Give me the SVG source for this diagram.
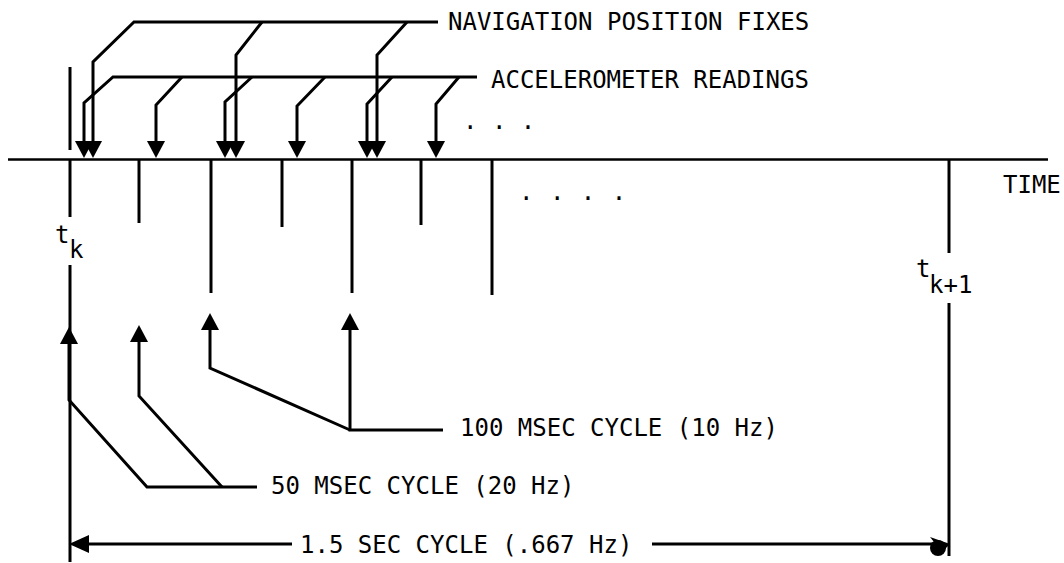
<svg xmlns="http://www.w3.org/2000/svg" width="1064" height="563" viewBox="0 0 1064 563">
<style>
.ln{stroke:#000;stroke-width:3;fill:none;stroke-linejoin:miter;stroke-linecap:butt}
.ax{stroke:#000;stroke-width:2.5;fill:none}
.tx{font-family:"DejaVu Sans Mono","Liberation Mono",monospace;font-size:24px;fill:#000}
.dn{marker-end:url(#ah)}
.dim{marker-end:url(#ahL)}
</style>
<defs>
<marker id="ah" viewBox="0 0 17 18" refX="5" refY="9" markerWidth="17" markerHeight="18" markerUnits="userSpaceOnUse" orient="auto">
<path d="M0,0 L17,9 L0,18 z" fill="#000"/>
</marker>
<marker id="ahL" viewBox="0 0 20 18" refX="4" refY="9" markerWidth="20" markerHeight="18" markerUnits="userSpaceOnUse" orient="auto">
<path d="M0,0 L20,9 L0,18 z" fill="#000"/>
</marker>
<marker id="blob" viewBox="0 0 20 22" refX="4" refY="8" markerWidth="20" markerHeight="22" markerUnits="userSpaceOnUse" orient="auto">
<path d="M0,1 L20,8 L12,16 z" fill="#000"/>
<circle cx="8" cy="12" r="8" fill="#000"/>
</marker>
</defs>

<g id="time-axis">
<line class="ax" x1="8" y1="159.5" x2="1048" y2="159.5"/>
<text class="tx" x="1003" y="193">TIME</text>
</g>

<g id="tk">
<line class="ln" x1="70" y1="67" x2="70" y2="150"/>
<line class="ln" x1="70" y1="160" x2="70" y2="217"/>
<line class="ln" x1="70" y1="265" x2="70" y2="562"/>
<text class="tx" x="55" y="243">t</text>
<text class="tx" x="69" y="258">k</text>
</g>

<g id="tk1">
<line class="ln" x1="949" y1="160" x2="949" y2="253"/>
<line class="ln" x1="949" y1="303" x2="949" y2="556"/>
<text class="tx" x="916" y="277">t</text>
<text class="tx" x="929" y="293">k+1</text>
</g>

<g id="ticks">
<line class="ln" x1="139" y1="160" x2="139" y2="223"/>
<line class="ln" x1="211" y1="160" x2="211" y2="293"/>
<line class="ln" x1="282" y1="160" x2="282" y2="227"/>
<line class="ln" x1="352" y1="160" x2="352" y2="293"/>
<line class="ln" x1="421" y1="160" x2="421" y2="225"/>
<line class="ln" x1="492" y1="160" x2="492" y2="295"/>
<text class="tx" x="519" y="200" letter-spacing="1">. . . .</text>
</g>

<g id="nav-label">
<text class="tx" x="448" y="30">NAVIGATION POSITION FIXES</text>
</g>
<g id="acc-label">
<text class="tx" x="491" y="88">ACCELEROMETER READINGS</text>
<text class="tx" x="463" y="129">. . .</text>
</g>
<g id="cycle-100">
<text class="tx" x="460" y="436">100 MSEC CYCLE (10 Hz)</text>
</g>
<g id="cycle-50">
<text class="tx" x="271" y="494">50 MSEC CYCLE (20 Hz)</text>
</g>
<g id="cycle-1-5">
<text class="tx" x="300" y="553">1.5 SEC CYCLE (.667 Hz)</text>
</g>

<g id="connectors">
<path class="ln dn" d="M438,22 L134,22 L93,62 L93,146"/>
<path class="ln dn" d="M262,22 L236,55 L236,146"/>
<path class="ln dn" d="M407,22 L377,55 L377,146"/>
<path class="ln dn" d="M477,77 L113,77 L84,103 L84,146"/>
<path class="ln dn" d="M182,77 L156,105 L156,146"/>
<path class="ln dn" d="M252,77 L225,102 L225,146"/>
<path class="ln dn" d="M325,77 L297,106 L297,146"/>
<path class="ln dn" d="M392,77 L367,104 L367,146"/>
<path class="ln dn" d="M459,77 L436,104 L436,146"/>
<path class="ln dn" d="M443,430 L350,430 L350,325"/>
<path class="ln dn" d="M350,430 L210,368 L210,325"/>
<path class="ln dn" d="M257,487 L147,487 L69,400 L69,339"/>
<path class="ln dn" d="M222,487 L139,396 L139,337"/>
<path class="ln dim" d="M292,544 L85,544"/>
<path class="ln" style="marker-end:url(#blob)" d="M652,544 L934,544"/>
</g>
</svg>
